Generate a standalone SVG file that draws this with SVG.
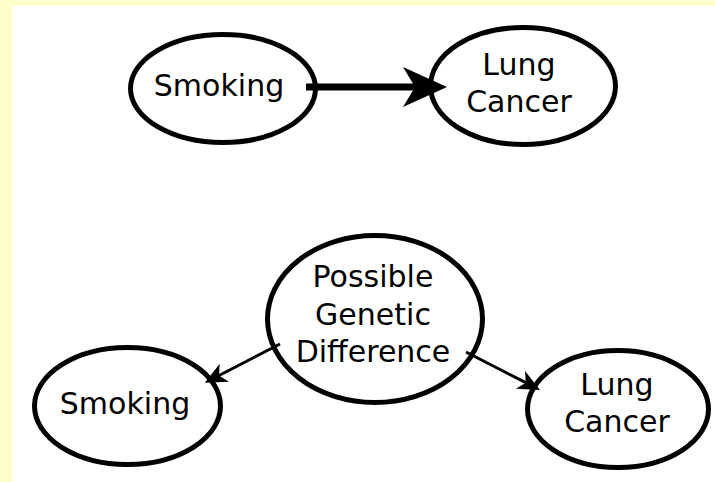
<svg xmlns="http://www.w3.org/2000/svg" width="715" height="482" viewBox="0 0 715 482">
  <style>
    .node ellipse { fill: none; stroke: #000; stroke-width: 5; }
    .node text { font-family: "DejaVu Sans", "Liberation Sans", sans-serif; font-size: 30px; fill: #000; text-anchor: middle; }
    .edge { stroke: #000; fill: none; }
    .thick { stroke-width: 7; }
    .thin { stroke-width: 3; }
  </style>
  <defs>
    <marker id="bigHead" markerUnits="userSpaceOnUse" markerWidth="44" markerHeight="40" refX="14" refY="20" orient="auto" overflow="visible">
      <path d="M0,0 L44,20 L0,40 L12,20 Z" fill="#000"/>
    </marker>
    <marker id="smallHead" markerUnits="userSpaceOnUse" markerWidth="22" markerHeight="20" refX="6" refY="10" orient="auto" overflow="visible">
      <path d="M0,0 L22,10 L0,20 L6,10 Z" fill="#000"/>
    </marker>
  </defs>

  <rect x="0" y="0" width="715" height="482" fill="#FFFFCC"/>
  <rect x="12" y="6" width="703" height="476" fill="#FFFFFF"/>

  <g id="smoking-top" class="node">
    <ellipse cx="223" cy="88.5" rx="92.5" ry="54"/>
    <text x="219" y="96">Smoking</text>
  </g>
  <g id="lungcancer-top" class="node">
    <ellipse cx="523" cy="86" rx="92.5" ry="58.5"/>
    <text x="519" y="75">Lung</text>
    <text x="519" y="112">Cancer</text>
  </g>
  <g id="genetic" class="node">
    <ellipse cx="375" cy="319" rx="107.5" ry="83.5"/>
    <text x="373" y="287">Possible</text>
    <text x="373" y="325">Genetic</text>
    <text x="373" y="362">Difference</text>
  </g>
  <g id="smoking-bottom" class="node">
    <ellipse cx="127.5" cy="406" rx="93" ry="58.5"/>
    <text x="125" y="414">Smoking</text>
  </g>
  <g id="lungcancer-bottom" class="node">
    <ellipse cx="618" cy="409" rx="90.5" ry="58.5"/>
    <text x="617" y="395">Lung</text>
    <text x="617" y="432">Cancer</text>
  </g>

  <g id="connectors">
    <line class="edge thick" x1="306" y1="87" x2="417" y2="87" marker-end="url(#bigHead)"/>
    <line class="edge thin" x1="280" y1="344" x2="219" y2="375.5" marker-end="url(#smallHead)"/>
    <line class="edge thin" x1="466" y1="352" x2="525.8" y2="382.7" marker-end="url(#smallHead)"/>
  </g>
</svg>
